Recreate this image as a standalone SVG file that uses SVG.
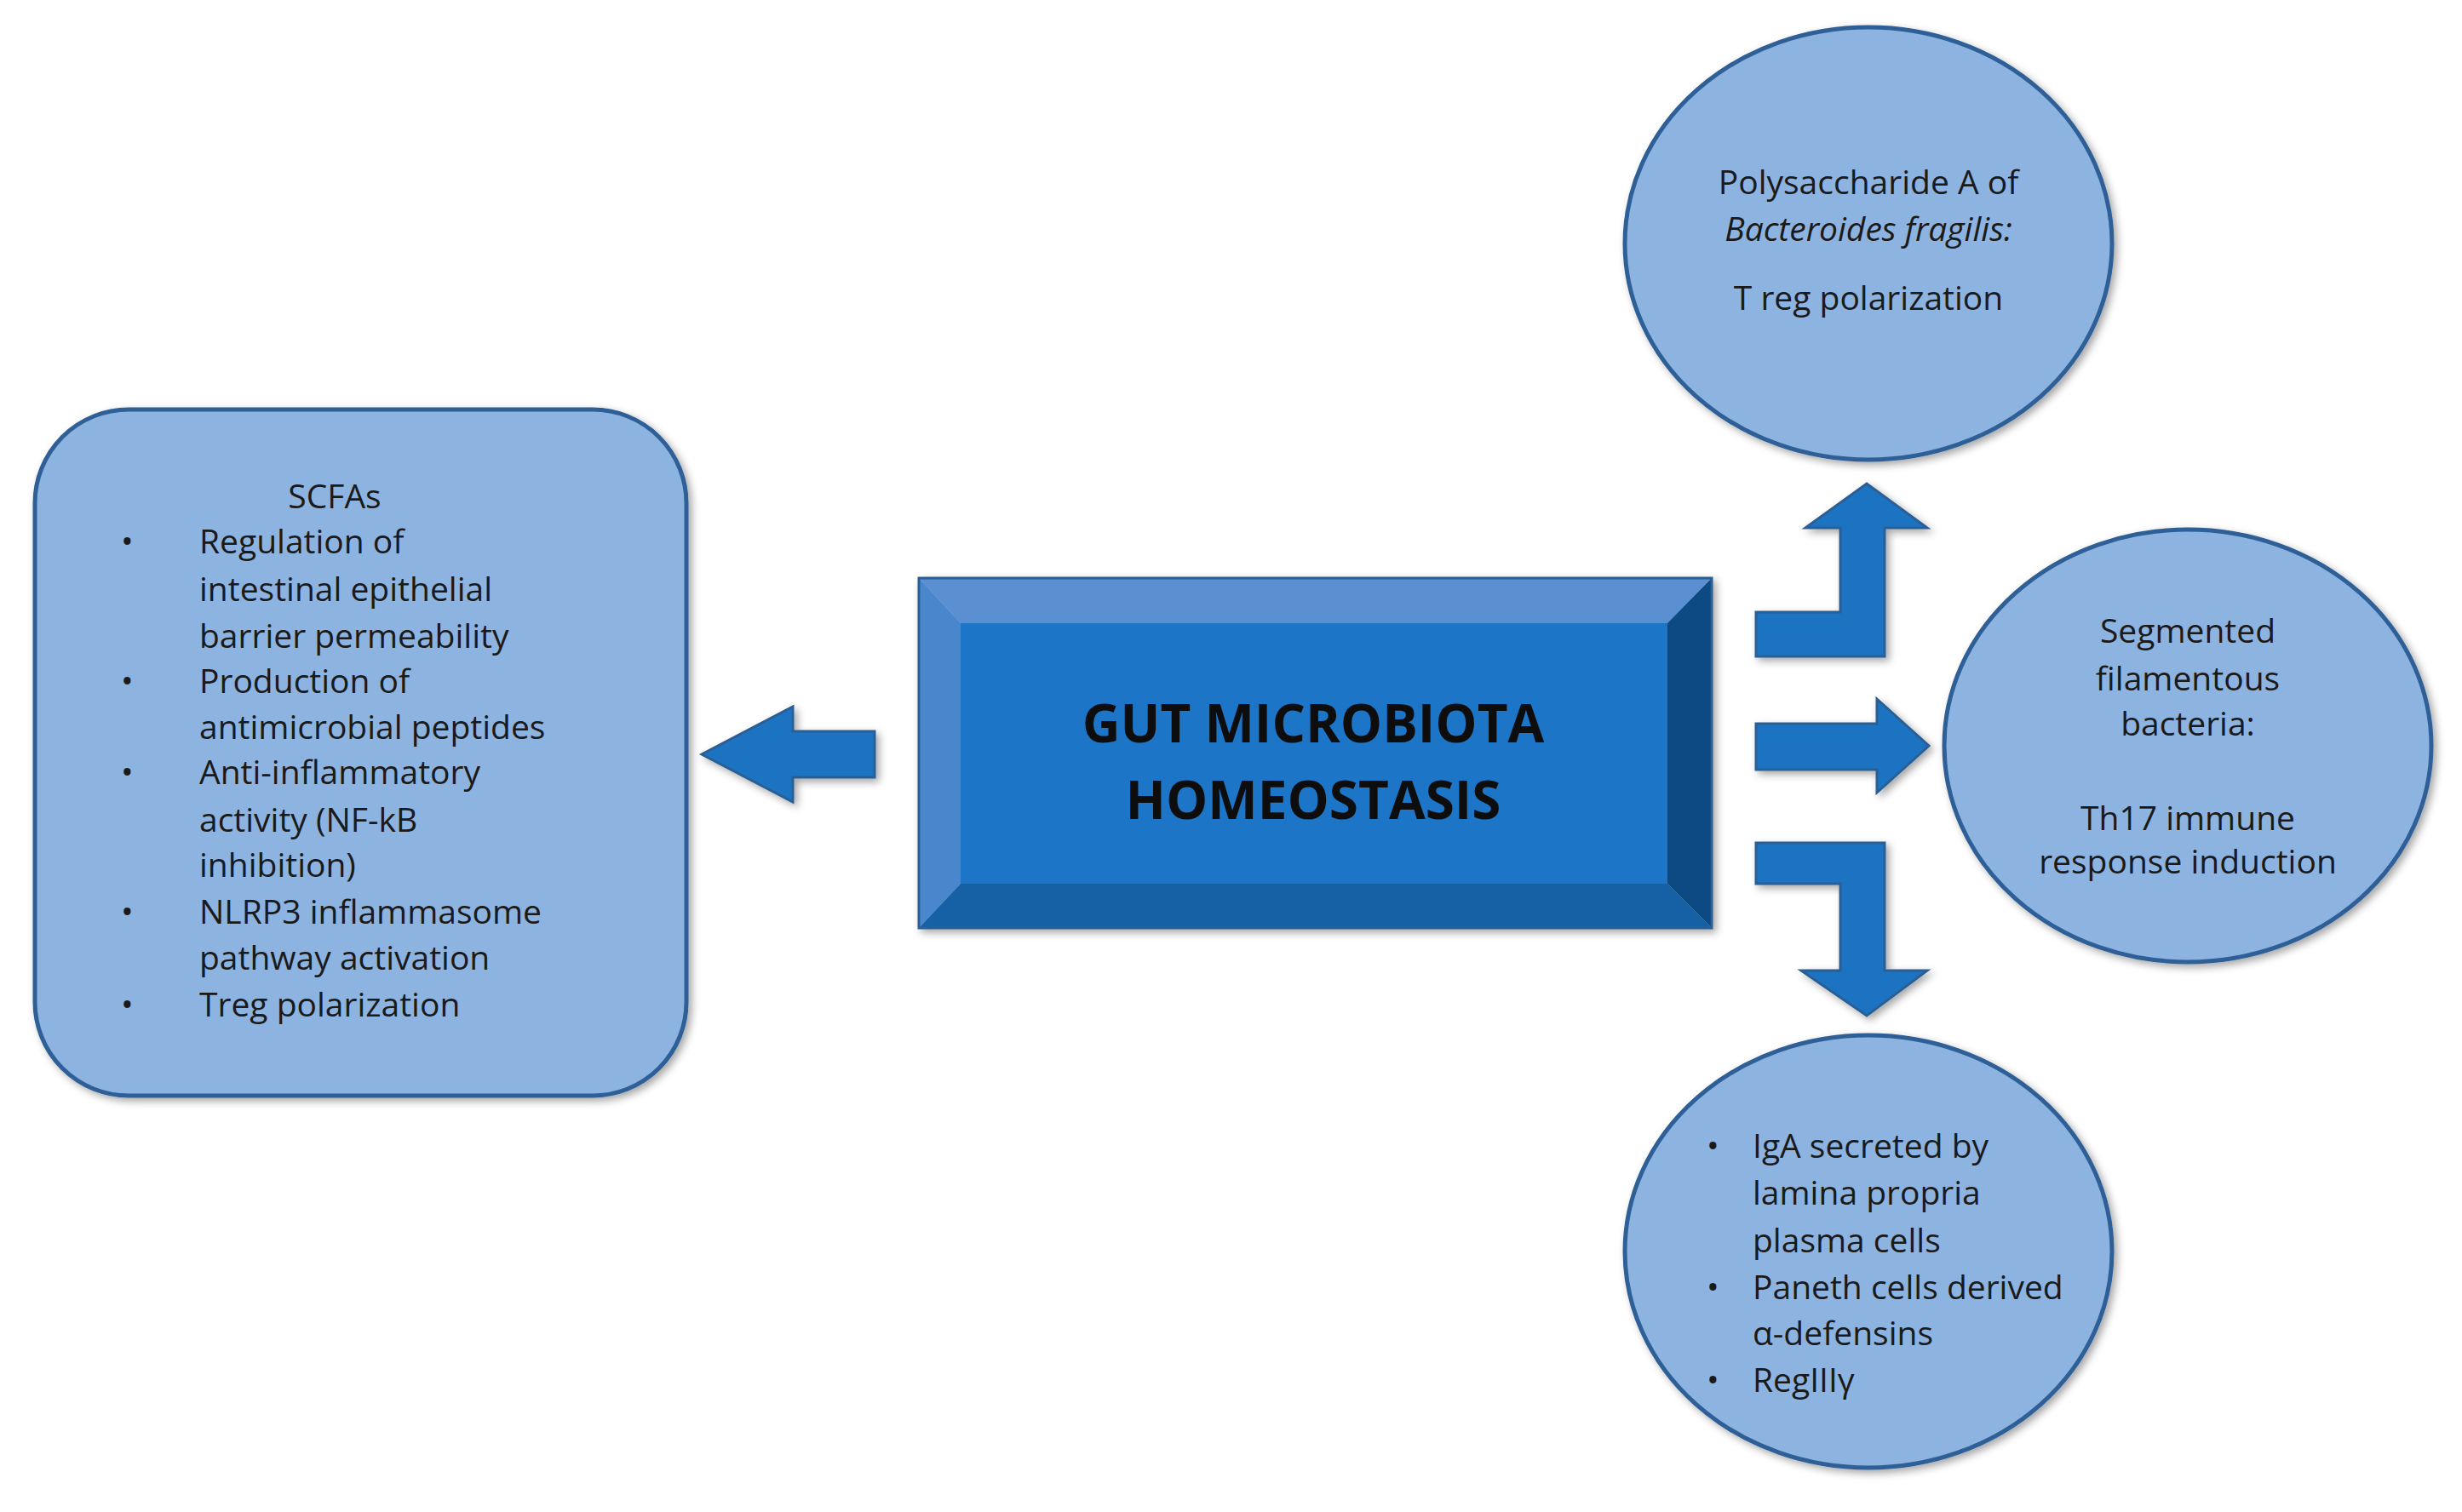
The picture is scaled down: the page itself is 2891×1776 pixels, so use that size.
<svg xmlns="http://www.w3.org/2000/svg" width="2891" height="1776" viewBox="0 0 2891 1776">
<style>
.n{fill:#8db3e1;stroke:#2f5f97;stroke-width:5}
.t{font-family:"Open Sans","Liberation Sans",sans-serif;font-size:39px;fill:#1a1a1a}
.c{text-anchor:middle}
.a{fill:#1f73c2;stroke:#2a5f95;stroke-width:3}
</style>
<defs><filter id="sh" x="-10%" y="-10%" width="120%" height="120%"><feDropShadow dx="4" dy="4" stdDeviation="5" flood-color="#000" flood-opacity="0.35"/></filter></defs>
<rect width="2891" height="1776" fill="#fff"/>
<g id="scfa">
<rect class="n" filter="url(#sh)" x="41" y="481" width="765" height="806" rx="110"/>
<text class="t c" x="393" y="597">SCFAs</text>
<g class="t">
<text x="142" y="650">•</text><text x="234" y="650">Regulation of</text>
<text x="234" y="706">intestinal epithelial</text>
<text x="234" y="761">barrier permeability</text>
<text x="142" y="814">•</text><text x="234" y="814">Production of</text>
<text x="234" y="868">antimicrobial peptides</text>
<text x="142" y="921">•</text><text x="234" y="921">Anti-inflammatory</text>
<text x="234" y="977">activity (NF-kB</text>
<text x="234" y="1030">inhibition)</text>
<text x="142" y="1085">•</text><text x="234" y="1085">NLRP3 inflammasome</text>
<text x="234" y="1139">pathway activation</text>
<text x="142" y="1194">•</text><text x="234" y="1194">Treg polarization</text>
</g>
</g>
<g id="center" filter="url(#sh)">
<polygon points="1079,679 2010,679 1958,732 1128,732" fill="#5a90d2"/>
<polygon points="1079,679 1128,732 1128,1038 1079,1090" fill="#4a86cc"/>
<polygon points="2010,679 2010,1090 1958,1038 1958,732" fill="#0f4a82"/>
<polygon points="1079,1090 1128,1038 1958,1038 2010,1090" fill="#1661a6"/>
<rect x="1128" y="732" width="830" height="306" fill="#1c75c7"/>
<rect x="1079" y="679" width="931" height="411" fill="none" stroke="#2a5f95" stroke-width="3"/>
<text class="c" x="1542" y="872" font-family="'Open Sans','Liberation Sans',sans-serif" font-size="62" font-weight="bold" fill="#111">GUT MICROBIOTA</text>
<text class="c" x="1542" y="962" font-family="'Open Sans','Liberation Sans',sans-serif" font-size="62" font-weight="bold" fill="#111">HOMEOSTASIS</text>
</g>
<g id="psa">
<ellipse class="n" filter="url(#sh)" cx="2194" cy="286" rx="286" ry="254"/>
<text class="t c" x="2194" y="228">Polysaccharide A of</text>
<text class="t c" x="2194" y="283" font-style="italic">Bacteroides fragilis:</text>
<text class="t c" x="2194" y="364">T reg polarization</text>
</g>
<g id="sfb">
<ellipse class="n" filter="url(#sh)" cx="2569" cy="876" rx="286" ry="254"/>
<text class="t c" x="2569" y="755">Segmented</text>
<text class="t c" x="2569" y="811">filamentous</text>
<text class="t c" x="2569" y="864">bacteria:</text>
<text class="t c" x="2569" y="975">Th17  immune</text>
<text class="t c" x="2569" y="1026">response induction</text>
</g>
<g id="iga">
<ellipse class="n" filter="url(#sh)" cx="2194" cy="1470" rx="286" ry="254"/>
<g class="t">
<text x="2004" y="1360">•</text><text x="2058" y="1360">IgA secreted by</text>
<text x="2058" y="1415">lamina propria</text>
<text x="2058" y="1471">plasma cells</text>
<text x="2004" y="1526">•</text><text x="2058" y="1526">Paneth cells derived</text>
<text x="2058" y="1580">α-defensins</text>
<text x="2004" y="1635">•</text><text x="2058" y="1635">RegIIIγ</text>
</g>
</g>
<g id="connectors" filter="url(#sh)">
<polygon class="a" points="1027,859 931,859 931,830 824,886 931,942 931,913 1027,913"/>
<polygon class="a" points="2062,850 2204,850 2204,821 2265,876 2204,931 2204,904 2062,904"/>
<polygon class="a" points="2062,771 2213,771 2213,620 2263,620 2192,568 2120,620 2161,620 2161,719 2062,719"/>
<polygon class="a" points="2062,990 2213,990 2213,1140 2263,1140 2192,1193 2115,1140 2161,1140 2161,1038 2062,1038"/>
</g>
</svg>
